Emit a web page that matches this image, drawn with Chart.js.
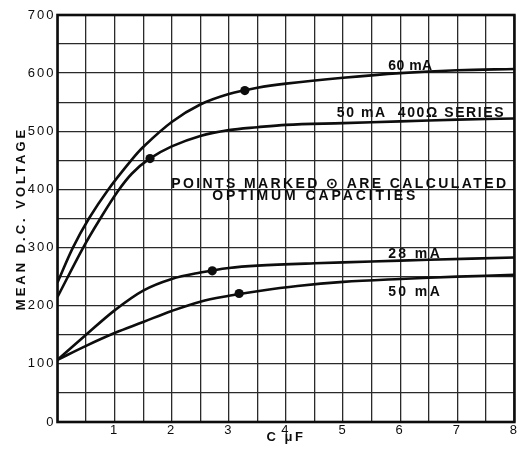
<!DOCTYPE html>
<html>
<head>
<meta charset="utf-8">
<script src="https://cdn.jsdelivr.net/npm/chart.js@4.4.1/dist/chart.umd.min.js"></script>
<style>
  html, body { margin: 0; padding: 0; background: #ffffff; }
  #wrap { width: 519px; height: 453px; position: relative; }
</style>
</head>
<body>
<div id="wrap"><canvas id="c" width="519" height="453"></canvas></div>
<script>
// ---- data ----
const xTickValues = [1, 2, 3, 4, 5, 6, 7, 8];
const yTickValues = [0, 100, 200, 300, 400, 500, 600, 700];

const ma60X = [0, 0.27, 0.55, 0.89, 1.29, 1.5, 2, 2.5, 3, 3.5, 4, 5, 6, 7, 8];
const ma60Y = [240, 300, 350, 400, 450, 473, 516, 546, 564, 575, 582, 592, 600, 605, 607];

const ma50SeriesX = [0, 0.45, 0.75, 1.05, 1.3, 1.6, 2, 2.5, 3, 3.5, 4, 5, 6, 7, 8];
const ma50SeriesY = [215, 300, 350, 396, 427, 452, 474, 492, 502, 507, 511, 514, 517, 520, 522];

const ma28X = [0, 0.5, 1, 1.5, 2, 2.5, 3, 3.5, 4.5, 5.5, 6.5, 8];
const ma28Y = [107, 150, 192, 226, 246, 257, 265, 269, 273, 276, 279, 283];

const ma50X = [0, 0.5, 1, 1.5, 2, 2.5, 3, 3.5, 4.2, 5, 6, 7, 8];
const ma50Y = [107, 131, 153, 172, 191, 207, 217, 225, 234, 241, 246, 250, 253];

const optimumX = [3.28, 1.62, 2.71, 3.18];
const optimumY = [570, 453, 260, 221];

const labelTexts = ['60 mA', '50 mA  400\u03A9 SERIES', 'POINTS MARKED \u2299 ARE CALCULATED', 'OPTIMUM CAPACITIES', '28 mA', '50 mA'];
const labelX = [5.79, 4.89, 1.99, 2.71, 5.79, 5.79];
const labelY = [606, 524, 402, 381, 282, 216];

const xTitle = 'C \u03BCF';
const yTitle = 'MEAN D.C. VOLTAGE';

// ---- chart ----
const FONT = "'Liberation Sans', Arial, Helvetica, sans-serif";
const INK = '#0d0d0d';
const pts = (xs, ys) => xs.map((x, i) => ({ x: x, y: ys[i] }));

const labelStyle = [
  { size: 14, spacing: 0.5 },
  { size: 14, spacing: 1.6 },
  { size: 14, spacing: 2.4 },
  { size: 14, spacing: 2.9 },
  { size: 14, spacing: 2.4 },
  { size: 14, spacing: 2.4 }
];

const decorPlugin = {
  id: 'decor',
  beforeDraw(chart) {
    const ctx = chart.ctx;
    ctx.letterSpacing = '2px';
    const spacings = { x: '2.5px', y: '3px' };
    for (const id of ['x', 'y']) {
      const s = chart.scales[id];
      if (s && !s._wrappedTitle) {
        const orig = s.drawTitle;
        s.drawTitle = function () {
          const c = this.ctx;
          const prev = c.letterSpacing;
          c.letterSpacing = spacings[id];
          orig.apply(this, arguments);
          c.letterSpacing = prev;
        };
        s._wrappedTitle = true;
      }
    }
  },
  afterDatasetsDraw(chart) {
    const ctx = chart.ctx;
    const a = chart.chartArea;
    ctx.save();
    ctx.strokeStyle = INK;
    ctx.lineWidth = 2.6;
    ctx.strokeRect(a.left, a.top, a.right - a.left, a.bottom - a.top);
    ctx.fillStyle = INK;
    ctx.textAlign = 'left';
    ctx.textBaseline = 'alphabetic';
    const xs = chart.scales.x, ys = chart.scales.y;
    labelTexts.forEach((t, i) => {
      ctx.font = 'bold ' + labelStyle[i].size + 'px ' + FONT;
      ctx.letterSpacing = labelStyle[i].spacing + 'px';
      ctx.fillText(t, xs.getPixelForValue(labelX[i]), ys.getPixelForValue(labelY[i]));
    });
    ctx.restore();
  },
  afterDraw(chart) {
    chart.ctx.letterSpacing = '0px';
  }
};

const lineStyle = {
  borderColor: INK,
  borderWidth: 2.6,
  pointRadius: 0,
  fill: false,
  tension: 0.35,
  showLine: true
};

new Chart(document.getElementById('c'), {
  type: 'scatter',
  data: {
    datasets: [
      { label: 'optimum', data: pts(optimumX, optimumY), pointRadius: 4.6, pointHoverRadius: 4.6, backgroundColor: INK, borderWidth: 0, showLine: false },
      Object.assign({ label: '60 mA', data: pts(ma60X, ma60Y) }, lineStyle),
      Object.assign({ label: '50 mA 400\u03A9 series', data: pts(ma50SeriesX, ma50SeriesY) }, lineStyle),
      Object.assign({ label: '28 mA', data: pts(ma28X, ma28Y) }, lineStyle),
      Object.assign({ label: '50 mA', data: pts(ma50X, ma50Y) }, lineStyle)
    ]
  },
  options: {
    responsive: false,
    animation: false,
    devicePixelRatio: 1,
    layout: { padding: { top: 15, right: 2, left: 0, bottom: 0 } },
    plugins: { legend: { display: false }, tooltip: { enabled: false } },
    scales: {
      x: {
        type: 'linear', min: 0, max: 8,
        ticks: {
          stepSize: 0.5, autoSkip: false, maxRotation: 0, padding: 1,
          color: INK, font: { family: FONT, size: 13 },
          callback: (v) => xTickValues.includes(v) ? String(v) : ''
        },
        grid: { color: '#2a2a2a', lineWidth: 1.3, drawTicks: false },
        border: { display: false },
        title: { display: true, text: xTitle, color: INK, font: { family: FONT, size: 13, weight: 'bold' }, padding: { top: 0, bottom: 8 } },
        afterFit: (s) => { s.height = 31; }
      },
      y: {
        type: 'linear', min: 0, max: 700,
        ticks: {
          stepSize: 50, autoSkip: false, padding: 2,
          color: INK, font: { family: FONT, size: 13 },
          callback: (v) => yTickValues.includes(v) ? String(v) : ''
        },
        grid: { color: '#2a2a2a', lineWidth: 1.3, drawTicks: false },
        border: { display: false },
        title: { display: true, text: yTitle, color: INK, font: { family: FONT, size: 13, weight: 'bold' }, padding: { top: 14, bottom: 0 } },
        afterFit: (s) => { s.width = 57.5; }
      }
    }
  },
  plugins: [decorPlugin]
});
</script>
</body>
</html>
